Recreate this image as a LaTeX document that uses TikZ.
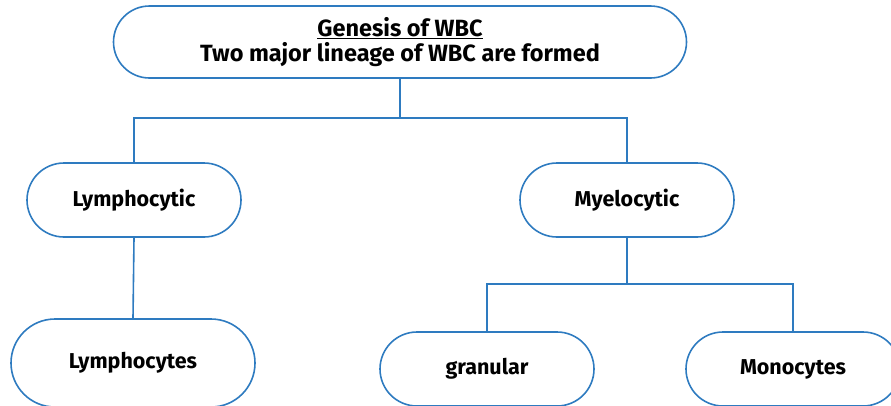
\documentclass[tikz,border=0pt]{standalone}
\usepackage{fontspec}
\setmainfont{Fira Sans}
\definecolor{lineblue}{HTML}{2E7BC0}
\begin{document}
\begin{tikzpicture}[x=1pt,y=-1pt,
  box/.style={draw=lineblue, line width=1.6pt, fill=white, rounded corners=37pt,
    minimum width=214pt, minimum height=74pt, inner sep=0pt,
    font=\fontsize{21.5}{24}\selectfont\bfseries, align=center},
  conn/.style={draw=lineblue, line width=1.6pt}]
\useasboundingbox (0,0) rectangle (891,405);
\clip (0,0) rectangle (891,405);
\node[box, minimum width=573pt, minimum height=72pt, rounded corners=36pt,
  font=\fontsize{23.5}{25}\selectfont\bfseries] (top) at (400,42)
  {\raisebox{0pt}[\height][0pt]{}\underline{Genesis of WBC}\\Two major lineage of WBC are formed};
\node[box] (lc) at (134,200) {Lymphocytic};
\node[box] (mc) at (627,200) {Myelocytic};
\node[box, minimum width=244pt, minimum height=88pt, rounded corners=44pt] (ls) at (133,363) {Lymphocytes};
\node[box] (gr) at (487,369) {granular};
\node[box] (mo) at (793,369) {Monocytes};
\coordinate (j1) at (400,118);
\coordinate (j2) at (627,284);
\draw[conn] (top.south) -- (j1);
\draw[conn] (j1) -| (lc.north);
\draw[conn] (j1) -| (mc.north);
\draw[conn] (lc.south) -- (ls.north);
\draw[conn] (mc.south) -- (j2);
\draw[conn] (j2) -| (gr.north);
\draw[conn] (j2) -| (mo.north);
\end{tikzpicture}
\end{document}
